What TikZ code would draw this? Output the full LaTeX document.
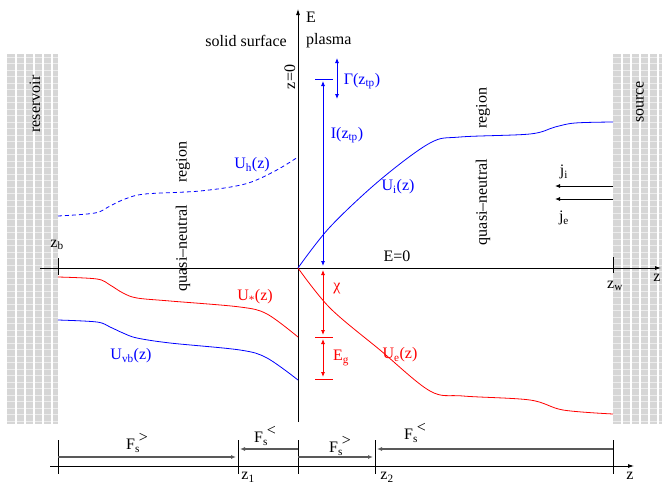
\documentclass[tikz,border=0pt]{standalone}
\usepackage{fontspec}
\setmainfont{Liberation Serif}
\usetikzlibrary{arrows.meta}
\definecolor{myred}{RGB}{255,0,0}
\definecolor{myblue}{RGB}{0,0,255}
\tikzset{
  lbl/.style={font=\fontsize{16}{18}\selectfont, inner sep=0pt},
  axis/.style={black, line width=0.8pt, -{Latex[length=6pt,width=4pt]}},
  tk/.style={black, line width=0.8pt},
  dbl/.style={line width=0.8pt, {Latex[length=5pt,width=4pt]}-{Latex[length=5pt,width=4pt]}},
  fline/.style={gray!70!black, line width=1.3pt, -{Latex[length=5pt,width=4pt]}},
  jarrow/.style={black, line width=0.8pt, -{Latex[length=5pt,width=4pt]}},
  curve/.style={line width=0.8pt},
  wallfill/.style={gray!32},
  wallv/.style={white, line width=1.1pt},
  wallh/.style={white!85!gray, line width=0.8pt},
}
\begin{document}
\begin{tikzpicture}[x=1pt,y=-1pt]
\useasboundingbox (0,0) rectangle (662,483);
% hatched walls
\fill[wallfill] (7,54) rectangle (58,424);
\fill[wallfill] (613,54) rectangle (662,424);
\foreach \yy in {57,63.5,...,424} {
  \draw[wallh] (7,\yy) -- (58,\yy);
  \draw[wallh] (613,\yy) -- (662,\yy);
}
\foreach \xx in {16,25,34,43,52} \draw[wallv] (\xx,54) -- (\xx,424);
\foreach \xx in {622,631,640,649,658} \draw[wallv] (\xx,54) -- (\xx,424);
\node[lbl,rotate=90] (res) at (35,104) {reservoir};
\node[lbl,rotate=90] (src) at (640,102) {source};

% axes
\coordinate (vb) at (298,422);
\coordinate (vt) at (298,9);
\draw[axis] (vb) -- (vt);
\coordinate (hl) at (40,268);
\coordinate (hr) at (661,268);
\draw[axis] (hl) -- (hr);
\node[lbl] (E) at (311,17) {E};
\node[lbl] (zax) at (657,278) {z};
\node[lbl,anchor=east] (solid) at (287,41) {solid surface};
\node[lbl,anchor=west] (plasma) at (306,41) {plasma};
\node[lbl,rotate=90] (z0) at (290,77) {z=0};
\node[lbl] (E0) at (397,256) {E=0};
\draw[tk] (58,258) -- (58,275);
\draw[tk] (613,257) -- (613,273);
\node[lbl] (zb) at (57,245) {z\textsubscript{b}};
\node[lbl] (zw) at (615,286) {z\textsubscript{w}};

% region labels
\node[lbl,rotate=90] (lreg) at (183,162) {region};
\node[lbl,rotate=90] (lqn) at (183,248) {quasi--neutral};
\node[lbl,rotate=90] (rreg) at (483,108) {region};
\node[lbl,rotate=90] (rqn) at (483,202) {quasi--neutral};

% curves
\draw[myblue,curve,dashed,dash pattern=on 4pt off 3pt] plot[smooth,tension=0.55] coordinates
  {(58,216) (95,213) (110,206) (125,199) (145,194) (200,191) (245,184) (275,171) (298,157)};
\draw[myblue,curve] plot[smooth,tension=0.55] coordinates
  {(298,268) (330,227) (380,180) (430,143) (460,137) (530,134) (555,127) (575,123) (613,122)};
\draw[myred,curve] plot[smooth,tension=0.55] coordinates
  {(58,277) (97,279) (110,285) (123,293) (137,298) (170,301) (240,307) (267,314) (298,337)};
\draw[myblue,curve] plot[smooth,tension=0.55] coordinates
  {(58,320) (97,322) (110,327) (123,333) (137,338) (170,343) (240,350) (267,358) (298,380)};
\draw[myred,curve] plot[smooth,tension=0.55] coordinates
  {(298,268) (330,308) (380,350) (430,391) (463,396) (530,400) (563,410) (613,414)};

\node[lbl,text=myblue] (Uh) at (252,165) {U\textsubscript{h}(z)};
\node[lbl,text=myblue] (Ui) at (398,187) {U\textsubscript{i}(z)};
\node[lbl,text=myred] (Us) at (255,297) {U\textsubscript{*}(z)};
\node[lbl,text=myblue] (Uvb) at (131,356) {U\textsubscript{vb}(z)};
\node[lbl,text=myred] (Ue) at (400,355) {U\textsubscript{e}(z)};

% I and Gamma
\draw[myblue,line width=0.8pt] (315,79) -- (333,79);
\draw[myblue,dbl] (323,266) -- (323,81);
\draw[myblue,dbl] (337,58) -- (337,99);
\node[lbl,text=myblue] (Gam) at (362,81) {Γ(z\textsubscript{tp})};
\node[lbl,text=myblue] (Iz) at (347,135) {I(z\textsubscript{tp})};

% chi and Eg
\draw[myred,dbl] (323,270) -- (323,335);
\draw[myred,line width=0.8pt] (315,337) -- (333,337);
\draw[myred,dbl] (323,339) -- (323,377);
\draw[myred,line width=0.8pt] (315,379) -- (333,379);
\node[lbl,text=myred] (chi) at (337,289) {χ};
\node[lbl,text=myred] (Eg) at (341,358) {E\textsubscript{g}};

% currents
\draw[jarrow] (613,186) -- (555,186);
\draw[jarrow] (613,199) -- (555,199);
\node[lbl] (ji) at (564,172) {j\textsubscript{i}};
\node[lbl] (je) at (564,218) {j\textsubscript{e}};

% bottom axis
\draw[axis] (50,466) -- (634,466);
\foreach \xx in {58,238,298,375,613} \draw[tk] (\xx,440) -- (\xx,474);
\draw[fline] (58,457) -- (236,457);
\draw[fline] (298,449) -- (240,449);
\draw[fline] (298,457) -- (373,457);
\draw[fline] (613,449) -- (377,449);
\node[lbl] (F1) at (137,443) {F\textsubscript{s}\kern-1pt\raisebox{7pt}{>}};
\node[lbl] (F2) at (265,436) {F\textsubscript{s}\kern-1pt\raisebox{7pt}{<}};
\node[lbl] (F3) at (340,446) {F\textsubscript{s}\kern-1pt\raisebox{7pt}{>}};
\node[lbl] (F4) at (415,433) {F\textsubscript{s}\kern-1pt\raisebox{7pt}{<}};
\node[lbl,anchor=north] (z1) at (248,472) {z\textsubscript{1}};
\node[lbl,anchor=north] (z2) at (387,472) {z\textsubscript{2}};
\node[lbl,anchor=north] (zb2) at (630,472) {z};
\end{tikzpicture}
\end{document}
